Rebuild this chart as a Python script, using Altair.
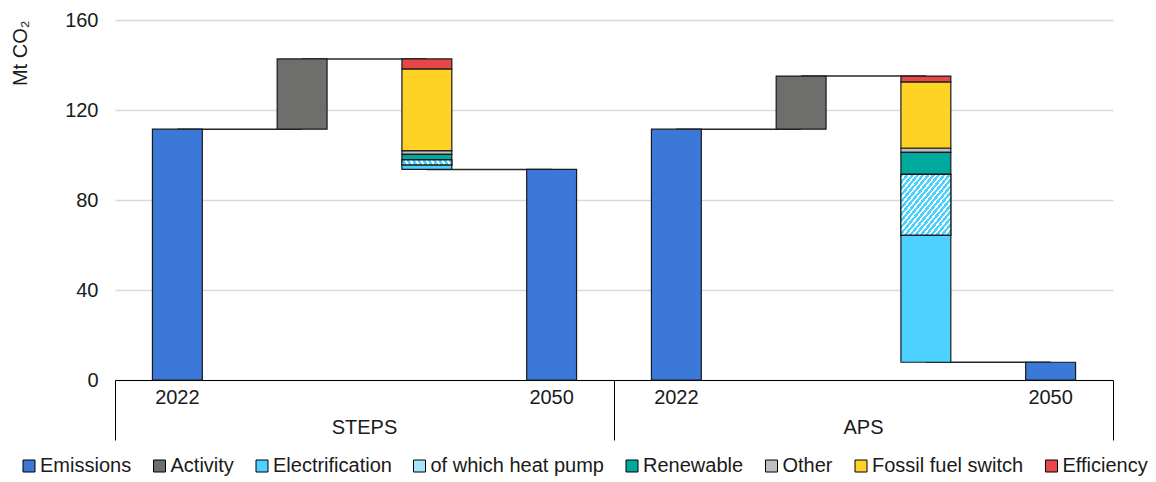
import altair as alt
import pandas as pd

# ---- data ----
scenarios = ["STEPS", "APS"]
year_labels = ["2022", "2050"]
emissions_2022 = [111.5, 111.5]
activity = [31.2, 23.6]
efficiency = [4.5, 2.7]
fossil_switch = [36.4, 29.4]
other = [1.5, 1.8]
renewable = [2.5, 9.8]
heat_pump = [2.2, 27.0]          # "of which heat pump" (part of electrification)
electrification_rest = [2.0, 56.5]
emissions_2050 = [93.6, 7.9]

categories = ["Emissions", "Activity", "Electrification", "of which heat pump",
              "Renewable", "Other", "Fossil fuel switch", "Efficiency"]
colors = ["#3C78D8", "#6E6F6D", "#4DD2FF", "#A3E6FC",
          "#00A99D", "#BFBFBF", "#FFD325", "#E8474A"]

FONT = "Liberation Sans"
HALF = 0.2  # half bar width in slot units

rows, links, ylab, glab = [], [], [], []
for s, name in enumerate(scenarios):
    base = s * 4
    rows.append(dict(cat="Emissions", x0=base + 0.5 - HALF, x1=base + 0.5 + HALF,
                     y0=0, y1=emissions_2022[s]))
    top = emissions_2022[s] + activity[s]
    rows.append(dict(cat="Activity", x0=base + 1.5 - HALF, x1=base + 1.5 + HALF,
                     y0=emissions_2022[s], y1=top))
    level = top
    for cat, vals in [("Efficiency", efficiency), ("Fossil fuel switch", fossil_switch),
                      ("Other", other), ("Renewable", renewable),
                      ("of which heat pump", heat_pump), ("Electrification", electrification_rest)]:
        rows.append(dict(cat=cat, x0=base + 2.5 - HALF, x1=base + 2.5 + HALF,
                         y0=level - vals[s], y1=level))
        level -= vals[s]
    rows.append(dict(cat="Emissions", x0=base + 3.5 - HALF, x1=base + 3.5 + HALF,
                     y0=0, y1=emissions_2050[s]))
    links += [dict(x0=base + 0.5, x1=base + 1.5, y=emissions_2022[s]),
              dict(x0=base + 1.5, x1=base + 2.5, y=top),
              dict(x0=base + 2.5, x1=base + 3.5, y=level)]
    ylab += [dict(x=base + 0.5, t=year_labels[0]), dict(x=base + 3.5, t=year_labels[1])]
    glab.append(dict(x=base + 2, t=name))

df = pd.DataFrame(rows)
df_links = pd.DataFrame(links)
df_ylab = pd.DataFrame(ylab)
df_glab = pd.DataFrame(glab)

xscale = alt.Scale(domain=[0, 8], nice=False, zero=False)
yscale = alt.Scale(domain=[0, 160], nice=False)

x_axis = alt.Axis(values=[0, 4, 8], tickSize=60, tickColor="black", tickWidth=1,
                  domainColor="black", domainWidth=1, labels=False, grid=False, title=None)
y_axis = alt.Axis(values=[0, 40, 80, 120, 160], grid=True, gridColor="#D9D9D9", gridWidth=1.5,
                  domain=False, ticks=False, labelPadding=17, labelFontSize=20, labelFont=FONT,
                  labelColor="#1a1a1a", title="Mt CO₂", titleFontSize=20, titleFont=FONT,
                  titleFontWeight="normal", titleColor="#1a1a1a", titleAnchor="end",
                  titlePadding=34)

connectors = alt.Chart(df_links).mark_rule(color="#262626", strokeWidth=1.5).encode(
    x=alt.X("x0:Q", scale=xscale, axis=x_axis), x2="x1:Q",
    y=alt.Y("y:Q", scale=yscale, axis=y_axis))

bars = alt.Chart(df).mark_rect(stroke="#1a1a1a", strokeWidth=1.2).encode(
    x=alt.X("x0:Q", scale=xscale, axis=x_axis), x2="x1:Q",
    y=alt.Y("y0:Q", scale=yscale, axis=y_axis), y2="y1:Q",
    color=alt.Color("cat:N", scale=alt.Scale(domain=categories, range=colors), sort=categories,
                    legend=alt.Legend(title=None, orient="none", legendX=-96, legendY=436,
                                      direction="horizontal", columns=8, symbolType="square",
                                      symbolSize=144, symbolStrokeColor="black",
                                      symbolStrokeWidth=1, symbolOpacity=1,
                                      labelFontSize=20, labelFont=FONT, labelColor="#1a1a1a",
                                      labelLimit=400, labelOffset=1, columnPadding=17.5)))

N = 19
stops = []
for k in range(N):
    stops += [alt.GradientStop(offset=k / N, color="#4DD2FF"),
              alt.GradientStop(offset=(k + 0.6) / N, color="#4DD2FF"),
              alt.GradientStop(offset=(k + 0.6) / N, color="#FFFFFF"),
              alt.GradientStop(offset=(k + 1) / N, color="#FFFFFF")]
hatch = alt.LinearGradient(gradient="linear", stops=stops, x1=0, y1=0, x2=1, y2=1)

hp = alt.Chart(df).transform_filter(alt.datum.cat == "of which heat pump").mark_rect(
    fill=hatch, stroke="#1a1a1a", strokeWidth=1.2).encode(
    x=alt.X("x0:Q", scale=xscale, axis=x_axis), x2="x1:Q",
    y=alt.Y("y0:Q", scale=yscale, axis=y_axis), y2="y1:Q")

years_text = alt.Chart(df_ylab).mark_text(fontSize=20, font=FONT, color="#1a1a1a",
                                          baseline="middle", align="center").encode(
    x=alt.X("x:Q", scale=xscale, axis=x_axis), y=alt.value(378), text="t:N")

groups_text = alt.Chart(df_glab).mark_text(fontSize=20, font=FONT, color="#1a1a1a",
                                           baseline="middle", align="center").encode(
    x=alt.X("x:Q", scale=xscale, axis=x_axis), y=alt.value(408), text="t:N")

chart = alt.layer(connectors, bars, hp, years_text, groups_text).properties(
    width=998, height=360,
    autosize=alt.AutoSizeParams(type="none"),
    padding={"left": 107, "top": 12, "right": 35, "bottom": 96},
).configure_view(stroke=None)

chart.save("out.html", embed_options={"renderer": "svg", "actions": False})
